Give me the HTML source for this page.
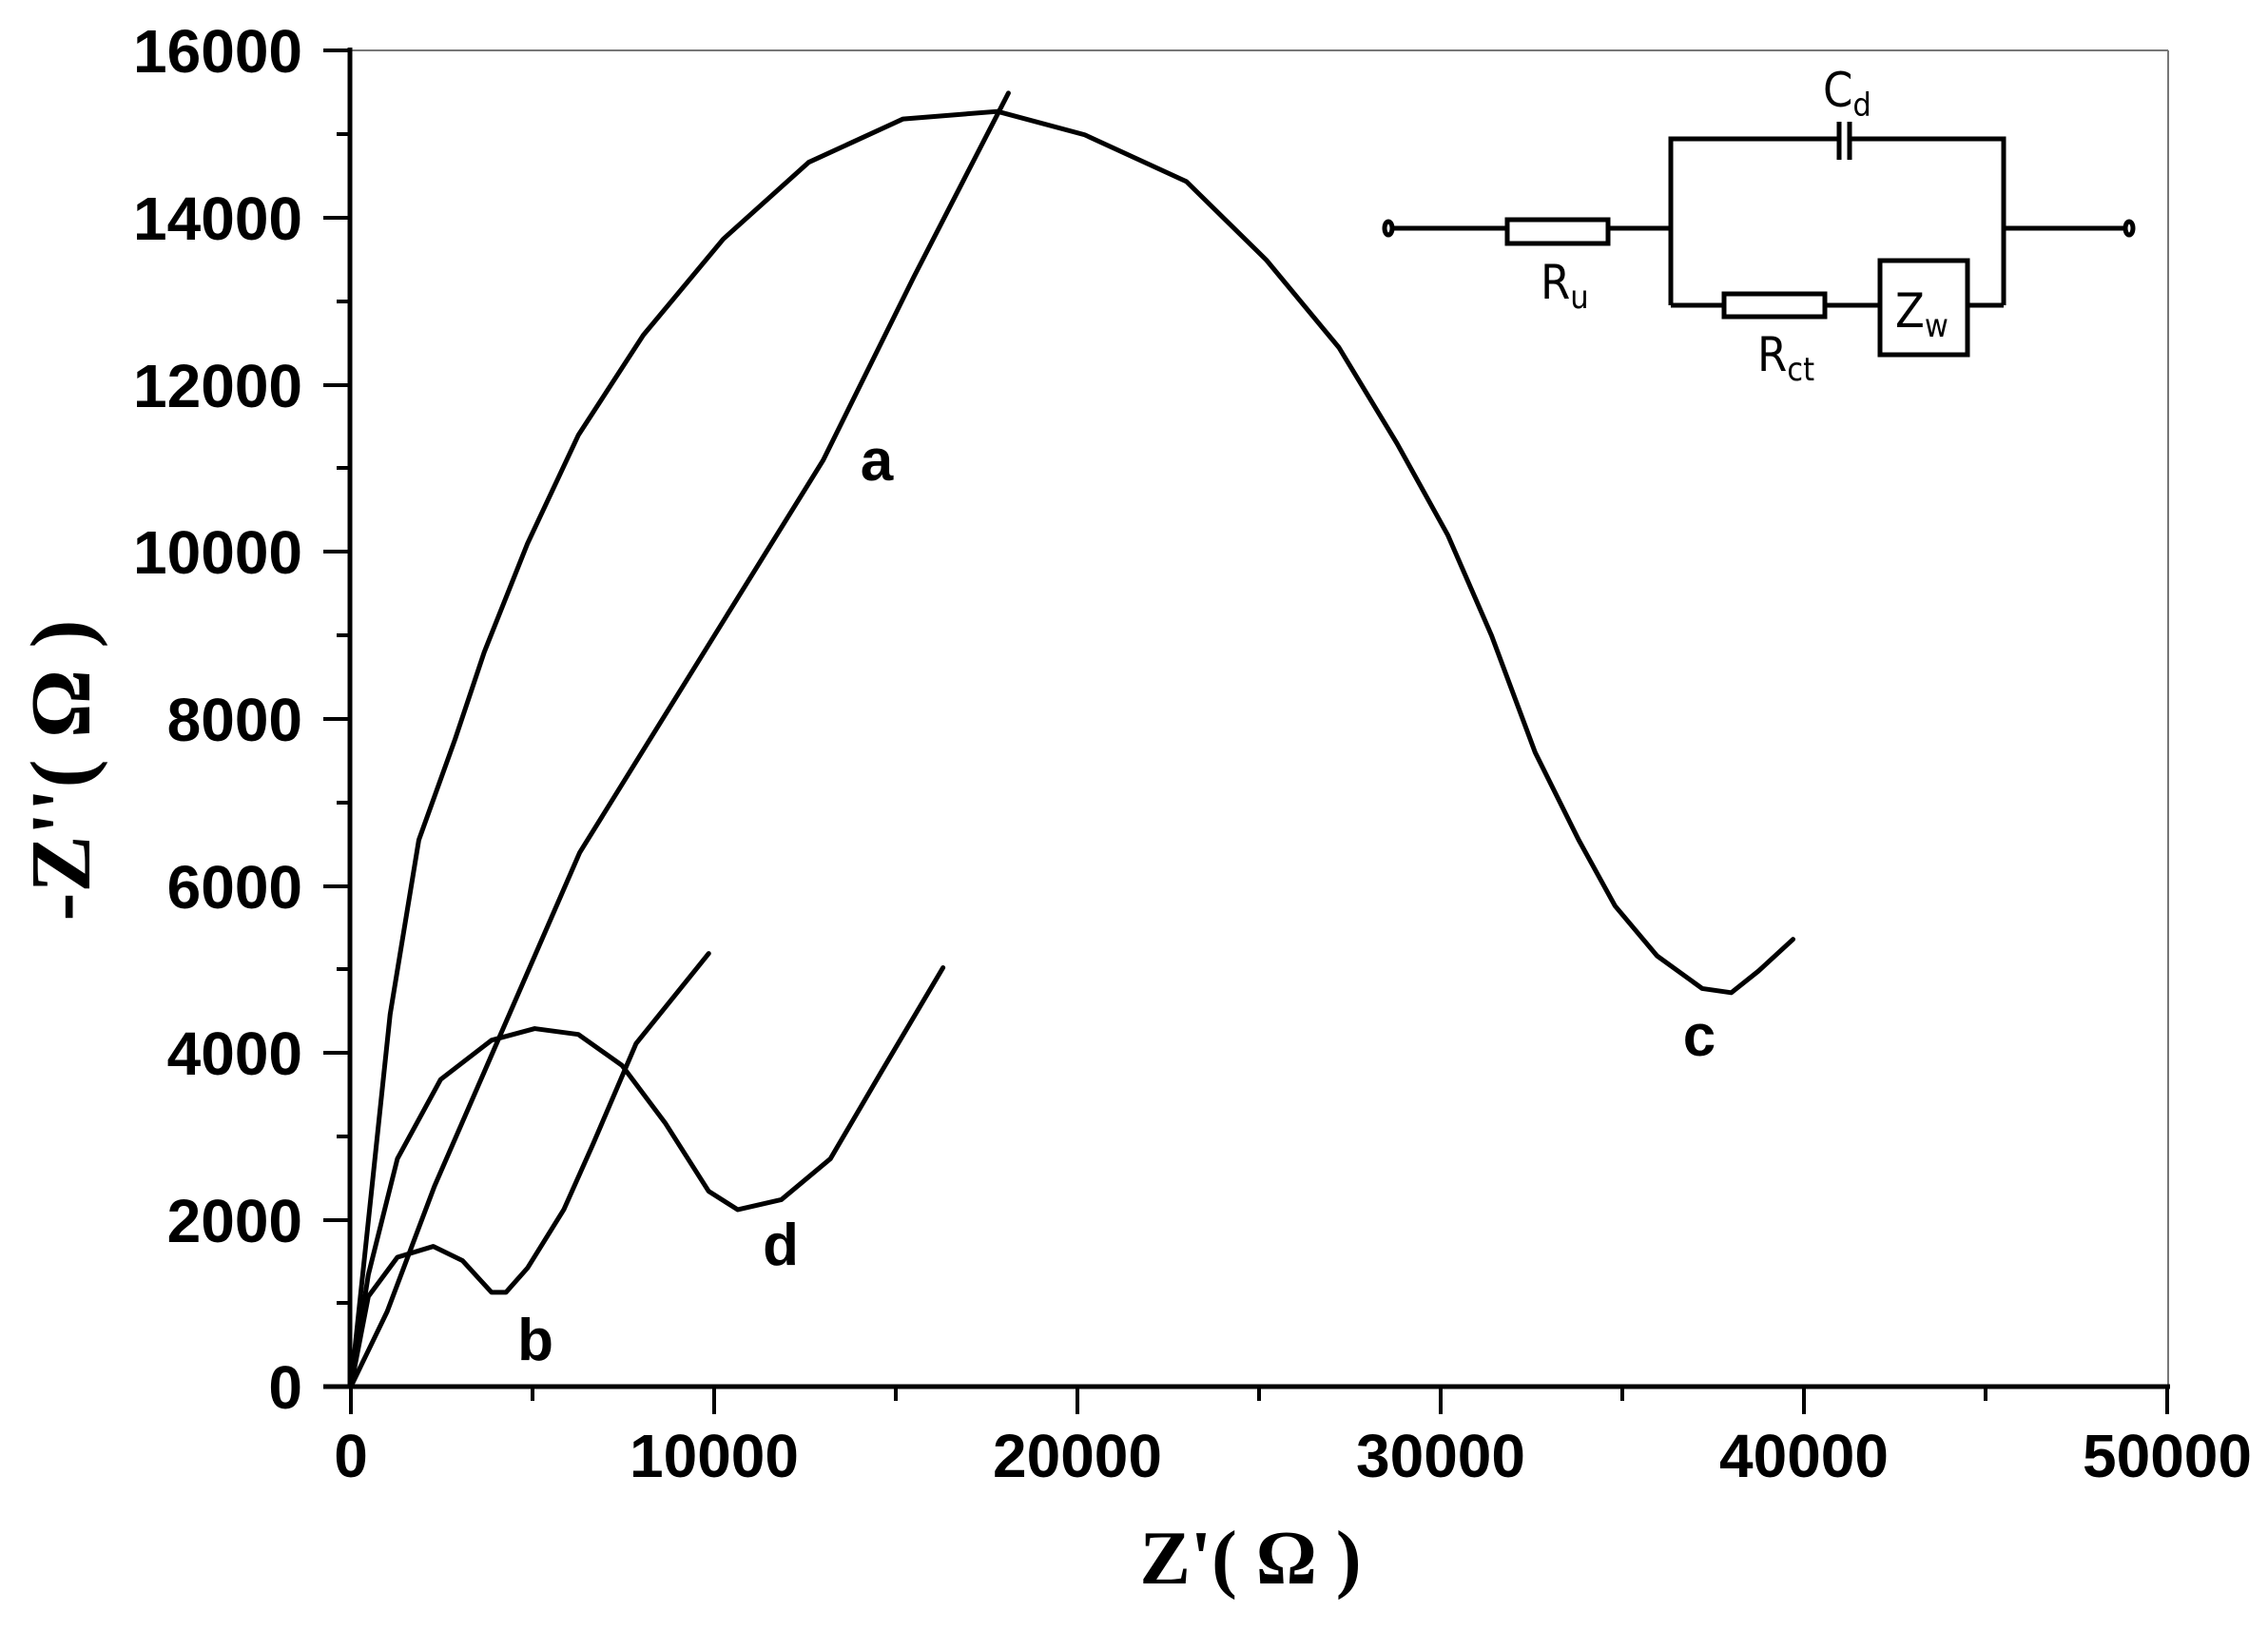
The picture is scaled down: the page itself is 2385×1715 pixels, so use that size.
<!DOCTYPE html>
<html><head><meta charset="utf-8"><style>html,body{margin:0;padding:0;background:#fff}</style></head>
<body>
<svg width="2385" height="1710" viewBox="0 0 2385 1710" xmlns="http://www.w3.org/2000/svg">
<rect width="2385" height="1710" fill="#fff"/>
<line x1="369" y1="53" x2="2280" y2="53" stroke="#777" stroke-width="2"/>
<line x1="2280" y1="53" x2="2280" y2="1458" stroke="#777" stroke-width="2"/>
<line x1="368" y1="50" x2="368" y2="1460" stroke="#000" stroke-width="5"/>
<line x1="340" y1="1458" x2="2282" y2="1458" stroke="#000" stroke-width="5"/>
<g stroke="#000" stroke-width="4">
<line x1="340" y1="53" x2="368" y2="53"/><line x1="340" y1="229" x2="368" y2="229"/><line x1="340" y1="405" x2="368" y2="405"/><line x1="340" y1="580" x2="368" y2="580"/><line x1="340" y1="756" x2="368" y2="756"/><line x1="340" y1="932" x2="368" y2="932"/><line x1="340" y1="1107" x2="368" y2="1107"/><line x1="340" y1="1283" x2="368" y2="1283"/>
<line x1="354" y1="141" x2="368" y2="141"/><line x1="354" y1="317" x2="368" y2="317"/><line x1="354" y1="492" x2="368" y2="492"/><line x1="354" y1="668" x2="368" y2="668"/><line x1="354" y1="844" x2="368" y2="844"/><line x1="354" y1="1019" x2="368" y2="1019"/><line x1="354" y1="1195" x2="368" y2="1195"/><line x1="354" y1="1370" x2="368" y2="1370"/>
<line x1="369" y1="1458" x2="369" y2="1487"/><line x1="751" y1="1458" x2="751" y2="1487"/><line x1="1133" y1="1458" x2="1133" y2="1487"/><line x1="1515" y1="1458" x2="1515" y2="1487"/><line x1="1897" y1="1458" x2="1897" y2="1487"/><line x1="2279" y1="1458" x2="2279" y2="1487"/>
<line x1="560" y1="1458" x2="560" y2="1473"/><line x1="942" y1="1458" x2="942" y2="1473"/><line x1="1324" y1="1458" x2="1324" y2="1473"/><line x1="1706" y1="1458" x2="1706" y2="1473"/><line x1="2088" y1="1458" x2="2088" y2="1473"/>
</g>
<g font-family="Liberation Sans, Arial, sans-serif" font-weight="bold" font-size="64" fill="#000" text-anchor="end">
<text x="318" y="76">16000</text><text x="318" y="252">14000</text><text x="318" y="428">12000</text><text x="318" y="603">10000</text><text x="318" y="779">8000</text><text x="318" y="955">6000</text><text x="318" y="1130">4000</text><text x="318" y="1306">2000</text><text x="318" y="1481">0</text>
</g>
<g font-family="Liberation Sans, Arial, sans-serif" font-weight="bold" font-size="64" fill="#000" text-anchor="middle">
<text x="369" y="1553">0</text><text x="751" y="1553">10000</text><text x="1133" y="1553">20000</text><text x="1515" y="1553">30000</text><text x="1897" y="1553">40000</text><text x="2279" y="1553">50000</text>
</g>
<text x="1315" y="1665" font-family="Liberation Serif, serif" font-weight="bold" font-size="80" text-anchor="middle">Z'( Ω )</text>
<text transform="translate(94,810) rotate(-90)" font-family="Liberation Serif, serif" font-weight="bold" font-size="90" text-anchor="middle">-Z''( Ω )</text>
<g transform="translate(369,1458) scale(0.0382,-0.08775)" fill="none" stroke="#000" stroke-width="5" stroke-linejoin="round" stroke-linecap="round">
<polyline vector-effect="non-scaling-stroke" points="0,0 1000,900 2300,2400 6300,6400 13000,11100 15500,13300 18100,15500"/>
<polyline vector-effect="non-scaling-stroke" points="0,0 1080,4460 1870,6550 2870,7760 3670,8800 4860,10100 6260,11400 8050,12600 10250,13750 12600,14670 15200,15190 17800,15280 20200,15000 23000,14440 25200,13500 27200,12450 28800,11300 30200,10200 31400,9000 32600,7600 33800,6550 34800,5760 35960,5160 37200,4770 38000,4720 38750,4980 39700,5360"/>
<polyline vector-effect="non-scaling-stroke" points="0,0 480,1340 1280,2730 2470,3680 3870,4150 5060,4290 6260,4220 7460,3850 8650,3160 9850,2340 10650,2120 11850,2240 13200,2730 14600,3770 16300,5020"/>
<polyline vector-effect="non-scaling-stroke" points="0,0 480,1080 1280,1550 2270,1680 3070,1510 3870,1130 4270,1130 4860,1420 5860,2120 6660,2900 7850,4110 9850,5190"/>
</g>
<g font-family="Liberation Sans, Arial, sans-serif" font-weight="bold" font-size="62" fill="#000" text-anchor="middle">
<text x="922" y="505">a</text><text x="1787" y="1110">c</text><text x="821" y="1330">d</text><text x="563" y="1430">b</text>
</g>
<g stroke="#000" stroke-width="5" fill="none">
<line x1="1462" y1="240" x2="1585" y2="240"/>
<rect x="1585" y="231" width="106" height="25" fill="#fff"/>
<line x1="1691" y1="240" x2="1757" y2="240"/>
<polyline points="1757,321 1757,146 1934,146"/>
<line x1="1934" y1="128" x2="1934" y2="168"/><line x1="1945" y1="128" x2="1945" y2="168"/>
<polyline points="1945,146 2107,146 2107,321"/>
<line x1="1757" y1="321" x2="1813" y2="321"/>
<rect x="1813" y="309" width="106" height="24" fill="#fff"/>
<line x1="1919" y1="321" x2="1977" y2="321"/>
<rect x="1977" y="274" width="92" height="99" fill="#fff"/>
<line x1="2069" y1="321" x2="2107" y2="321"/>
<line x1="2107" y1="240" x2="2235" y2="240"/>
<ellipse cx="1460" cy="240" rx="4" ry="7"/><ellipse cx="2239" cy="240" rx="4" ry="7"/>
</g>
<g font-family="DejaVu Sans Condensed, DejaVu Sans, sans-serif" font-size="50" fill="#000">
<text x="1917" y="112">C<tspan font-size="34" dy="10">d</tspan></text>
<text x="1620" y="314">R<tspan font-size="34" dy="10">u</tspan></text>
<text x="1848" y="390">R<tspan font-size="34" dy="10">ct</tspan></text>
<text x="1993" y="344">Z<tspan font-size="34" dy="10">w</tspan></text>
</g>
</svg>
</body></html>
